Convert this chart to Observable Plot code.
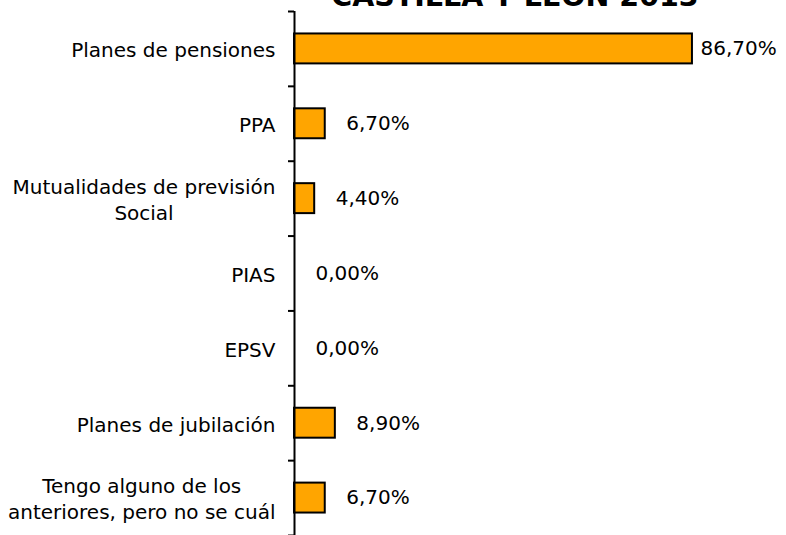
<!DOCTYPE html>
<html>
<head>
<meta charset="utf-8">
<script src="https://cdn.jsdelivr.net/npm/d3@7"></script>
<script src="https://cdn.jsdelivr.net/npm/@observablehq/plot@0.6"></script>
<style>
  html, body { margin: 0; padding: 0; background: #fff; overflow: hidden; }
  #wrap { position: relative; width: 786px; height: 535px; overflow: hidden; }
  #title { position: absolute; top: -17px; left: 515px; transform: translateX(-50%);
    font-family: "DejaVu Sans", sans-serif; font-weight: bold; font-size: 28.5px; line-height: 1; white-space: nowrap; color: #000; }
</style>
</head>
<body>
<div id="wrap">
  <div id="title">CASTILLA Y LEÓN 2013</div>
  <div id="chart"></div>
</div>
<script>
const categories = [
  "Planes de pensiones",
  "PPA",
  "Mutualidades de previsión\nSocial",
  "PIAS",
  "EPSV",
  "Planes de jubilación",
  "Tengo alguno de los\nanteriores, pero no se cuál"
];
const values = [86.7, 6.7, 4.4, 0, 0, 8.9, 6.7];

const fmt = v => d3.format(".2f")(v).replace(".", ",") + "%";
const data = categories.map((c, i) => ({category: c, value: values[i], i, label: fmt(values[i])}));

const chart = Plot.plot({
  width: 786,
  height: 535,
  marginLeft: 294,
  marginRight: 33,
  marginTop: 11,
  marginBottom: 0,
  style: {fontFamily: "DejaVu Sans, sans-serif", fontSize: "20px", color: "#000", background: "#fff"},
  x: {domain: [0, 100], axis: null},
  y: {domain: [0, categories.length], reverse: true},
  marks: [
    Plot.rectX(data.filter(d => d.value > 0), {
      x1: 0, x2: "value",
      y1: d => d.i + 0.3, y2: d => d.i + 0.7,
      fill: "#FFA500", stroke: "#000", strokeWidth: 2
    }),
    Plot.ruleX([0], {stroke: "#000", strokeWidth: 2}),
    Plot.axisY({ticks: d3.range(categories.length + 1), tickSize: 6, tickFormat: () => "", stroke: "#000", strokeWidth: 2, label: null}),
    Plot.text(data, {
      x: 0, y: d => d.i + 0.5, text: "category",
      textAnchor: "end", dx: -19, lineHeight: 1.3, fill: "#000", fontSize: 20
    }),
    Plot.text(data.filter(d => d.value <= 50), {
      x: "value", y: d => d.i + 0.5, text: "label",
      textAnchor: "start", dx: 21, fill: "#000", fontSize: 20
    }),
    Plot.text(data.filter(d => d.value > 50), {
      x: "value", y: d => d.i + 0.5, text: "label",
      textAnchor: "start", dx: 8, fill: "#000", fontSize: 20
    })
  ]
});
document.getElementById("chart").appendChild(chart);

// center multi-line category labels on their widest line (right edge kept)
chart.querySelectorAll("text").forEach(t => {
  const spans = t.querySelectorAll("tspan");
  if (spans.length > 1) {
    const w = Math.max(...Array.from(spans, s => s.getComputedTextLength()));
    t.setAttribute("text-anchor", "middle");
    spans.forEach(s => s.setAttribute("x", -w / 2));
  }
});
</script>
</body>
</html>
